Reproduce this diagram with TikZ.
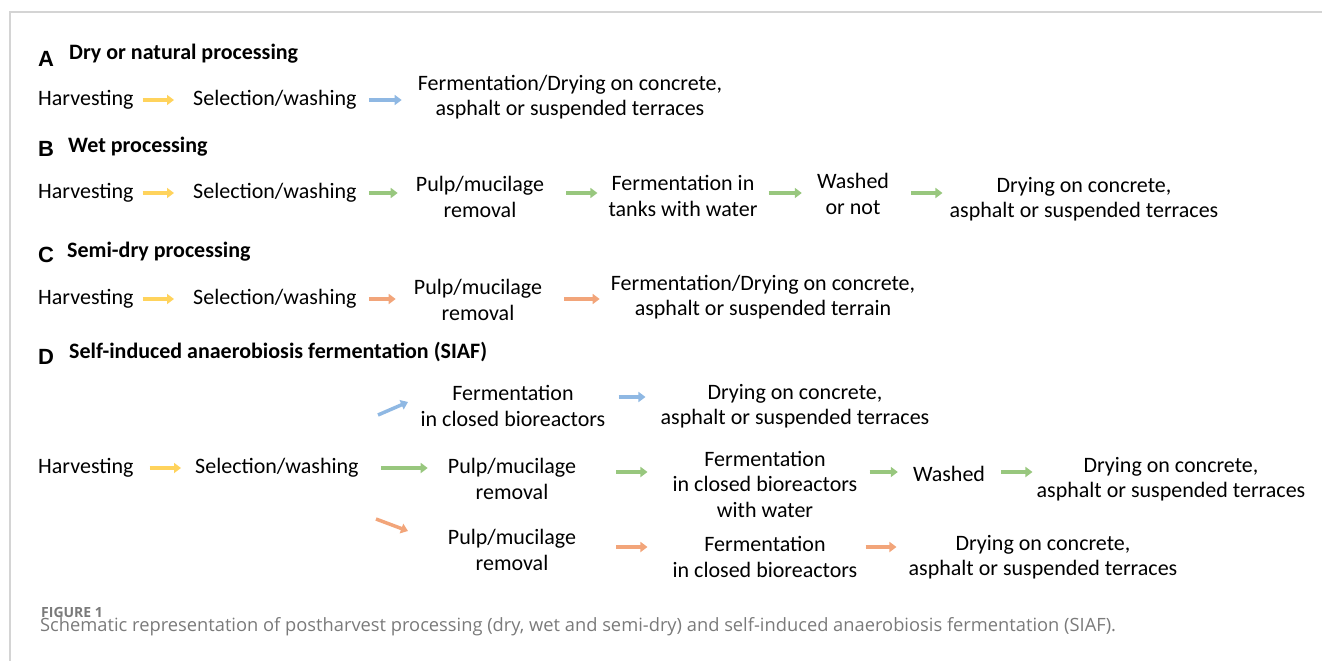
\documentclass[tikz,border=0pt]{standalone}
\usepackage{fontspec}
\setmainfont{Carlito}
\newfontfamily\capfont{Open Sans}
\newfontfamily\letterfont{Liberation Sans}
\usepackage{xcolor}
\usetikzlibrary{arrows.meta, calc}

\definecolor{arrowyellow}{HTML}{FFD35C}
\definecolor{arrowblue}{HTML}{8FB8E3}
\definecolor{arrowgreen}{HTML}{98C77E}
\definecolor{arroworange}{HTML}{F2A57A}
\definecolor{framegray}{HTML}{D4D4D4}
\definecolor{captiongray}{HTML}{7A7A7A}

\tikzset{
  lbl/.style={inner sep=0pt, align=center, font=\fontsize{22}{25.5}\selectfont},
  lbw/.style={lbl, anchor=west},
  panel/.style={inner sep=0pt, anchor=west, font=\letterfont\bfseries\fontsize{22}{24}\selectfont},
  head/.style={inner sep=0pt, anchor=west, font=\bfseries\fontsize{22}{24}\selectfont},
  flow/.style={line width=3.5pt, -{Triangle[length=7pt,width=10pt]}},
  yarr/.style={flow, draw=arrowyellow, fill=arrowyellow},
  barr/.style={flow, draw=arrowblue, fill=arrowblue},
  garr/.style={flow, draw=arrowgreen, fill=arrowgreen},
  oarr/.style={flow, draw=arroworange, fill=arroworange}
}

\begin{document}
\begin{tikzpicture}[x=1pt, y=-1pt]
  \useasboundingbox (0,0) rectangle (1322,661);
  \draw[framegray, line width=2pt] (10,661) -- (10,12) -- (1322,12);

  % A
  \node[panel] (la) at (38,59) {A};
  \node[head] (ta) at (69,54) {Dry or natural processing};
  \node[lbw] (h1) at (38,100) {Harvesting};
  \node[lbw] (s1) at (193,100) {Selection/washing};
  \node[lbl] (f1) at (570,97) {Fermentation/Drying on concrete,\\asphalt or suspended terraces};
  \draw[yarr, shorten <=9pt, shorten >=19pt] (h1.east) -- (s1.west);
  \draw[barr, shorten <=12pt, shorten >=16pt] (s1.east) -- (s1.east -| f1.west);

  % B
  \node[panel] (lb) at (38,149) {B};
  \node[head] (tb) at (68,147) {Wet processing};
  \node[lbw] (h2) at (38,193) {Harvesting};
  \node[lbw] (s2) at (193,193) {Selection/washing};
  \node[lbl] (p2) at (480,197) {Pulp/mucilage\\removal};
  \node[lbl] (t2) at (683,196) {Fermentation in\\tanks with water};
  \node[lbl] (w2) at (853,194) {Washed\\or not};
  \node[lbl] (d2) at (1084,199) {Drying on concrete,\\asphalt or suspended terraces};
  \draw[yarr, shorten <=9pt, shorten >=19pt] (h2.east) -- (s2.west);
  \draw[garr, shorten <=12pt, shorten >=18pt] (s2.east) -- (s2.east -| p2.west);
  \draw[garr, shorten <=22pt, shorten >=11pt] (p2.east |- s2.east) -- (s2.east -| t2.west);
  \draw[garr, shorten <=11pt, shorten >=15pt] (t2.east |- s2.east) -- (s2.east -| w2.west);
  \draw[garr, shorten <=22pt, shorten >=7pt] (w2.east |- s2.east) -- (s2.east -| d2.west);

  % C
  \node[panel] (lc) at (38,255) {C};
  \node[head] (tc) at (67,252) {Semi-dry processing};
  \node[lbw] (h3) at (38,299) {Harvesting};
  \node[lbw] (s3) at (193,299) {Selection/washing};
  \node[lbl] (p3) at (478,300) {Pulp/mucilage\\removal};
  \node[lbl] (f3) at (763,297) {Fermentation/Drying on concrete,\\asphalt or suspended terrain};
  \draw[yarr, shorten <=9pt, shorten >=19pt] (h3.east) -- (s3.west);
  \draw[oarr, shorten <=12pt, shorten >=18pt] (s3.east) -- (s3.east -| p3.west);
  \draw[oarr, shorten <=22pt, shorten >=11pt] (p3.east |- s3.east) -- (s3.east -| f3.west);

  % D
  \node[panel] (ld) at (38,357) {D};
  \node[head] (td) at (69,352) {Self-induced anaerobiosis fermentation (SIAF)};
  \node[lbw] (h4) at (38,468) {Harvesting};
  \node[lbw] (s4) at (195,468) {Selection/washing};

  \node[lbl] (f4) at (513,406) {Fermentation\\in closed bioreactors};
  \node[lbl] (d4) at (795,406) {Drying on concrete,\\asphalt or suspended terraces};

  \node[lbl] (p4) at (512,479) {Pulp/mucilage\\removal};
  \node[lbl] (g4) at (765,484) {Fermentation\\in closed bioreactors\\with water};
  \node[lbl] (w4) at (949,474) {Washed};
  \node[lbl] (e4) at (1171,479) {Drying on concrete,\\asphalt or suspended terraces};

  \node[lbl] (q4) at (512,550) {Pulp/mucilage\\removal};
  \node[lbl] (k4) at (765,557) {Fermentation\\in closed bioreactors};
  \node[lbl] (r4) at (1043,557) {Drying on concrete,\\asphalt or suspended terraces};

  \coordinate (up) at (378,415);
  \coordinate (dn) at (376,519);
  \draw[yarr, shorten <=16pt, shorten >=14pt] (h4.east) -- (s4.west);
  \draw[barr] (up) -- ++(30,-13);
  \draw[garr, shorten <=22pt, shorten >=20pt] (s4.east) -- (s4.east -| p4.west);
  \draw[oarr] (dn) -- ++(32,12);

  \draw[barr, shorten <=13pt, shorten >=15pt] (f4.east |- 0,397) -- (d4.west |- 0,397);
  \draw[garr, shorten <=40pt, shorten >=25pt] (p4.east |- 0,472) -- (g4.west |- 0,472);
  \draw[garr, shorten <=12pt, shorten >=15pt] (g4.east |- 0,472) -- (w4.west |- 0,472);
  \draw[garr, shorten <=16pt, shorten >=4pt] (w4.east |- 0,472) -- (e4.west |- 0,472);
  \draw[oarr, shorten <=40pt, shorten >=25pt] (q4.east |- 0,547) -- (k4.west |- 0,547);
  \draw[oarr, shorten <=8pt, shorten >=12pt] (k4.east |- 0,547) -- (r4.west |- 0,547);

  % caption
  \node[inner sep=0pt, anchor=west, text=captiongray, font=\capfont\bfseries\fontsize{14}{16}\selectfont] (fig) at (41,612) {FIGURE 1};
  \node[inner sep=0pt, anchor=west, text=captiongray, font=\capfont\fontsize{18.3}{20}\selectfont] (cap) at (40,627) {Schematic representation of postharvest processing (dry, wet and semi-dry) and self-induced anaerobiosis fermentation (SIAF).};
\end{tikzpicture}
\end{document}
